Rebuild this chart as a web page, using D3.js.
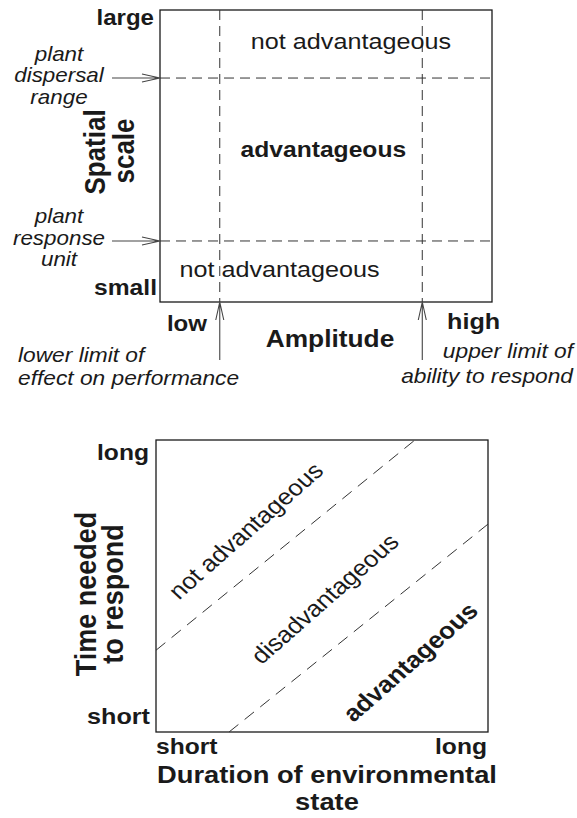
<!DOCTYPE html>
<html>
<head>
<meta charset="utf-8">
<script src="https://cdn.jsdelivr.net/npm/d3@7"></script>
<style>
  body { margin: 0; background: #fff; }
  svg { display: block; font-family: "Liberation Sans", Arial, Helvetica, sans-serif; }
</style>
</head>
<body>
<svg width="577" height="818"></svg>
<script>
// top panel: amplitude vs spatial scale (0..1 units)
const ampLimits = [0.18, 0.79];            // lower limit of effect, upper limit of ability
const spatialLimits = [0.209, 0.767];      // plant response unit, plant dispersal range
const ampTicks = ["low", "high"];
const spatialTicks = ["small", "large"];
const topRegions = [
    {label: "not advantageous", x: 0.575, y: 0.865, bold: false},
    {label: "advantageous", x: 0.492, y: 0.496, bold: true},
    {label: "not advantageous", x: 0.36, y: 0.085, bold: false}
];
const spatialNotes = [["plant", "dispersal", "range"], ["plant", "response", "unit"]];
const ampNotes = [["lower limit of", "effect on performance"], ["upper limit of", "ability to respond"]];

// bottom panel: duration of environmental state vs time needed to respond
const boundaryLines = [
    [[0, 0.28], [0.78, 1]],
    [[0.22, 0], [1, 0.712]]
];
const durationTicks = ["short", "long"];
const timeTicks = ["short", "long"];
const bottomRegions = [
    {label: "not advantageous", x: 0.289, y: 0.67, bold: false},
    {label: "disadvantageous", x: 0.527, y: 0.437, bold: false},
    {label: "advantageous", x: 0.785, y: 0.22, bold: true}
];

const SX = 1.12;   // the figure is slightly wider than tall
const ink = "#1a1a1a";

const svg = d3.select("svg");

function label(g, txt, x, y, opts) {
    const o = Object.assign({size: 21.5, weight: "bold", style: "normal", anchor: "middle", rot: 0}, opts);
    return g.append("text")
        .attr("transform", `translate(${x},${y}) scale(${SX},1) rotate(${o.rot})`)
        .attr("text-anchor", o.anchor)
        .attr("font-size", o.size)
        .attr("font-weight", o.weight)
        .attr("font-style", o.style)
        .attr("fill", ink)
        .text(txt);
}

function arrow(g, xa, ya, xb, yb) {
    const a = Math.atan2(yb - ya, xb - xa);
    const len = 18, hw = 4;
    const bx = xb - len * Math.cos(a), by = yb - len * Math.sin(a);
    const px = -Math.sin(a) * hw, py = Math.cos(a) * hw;
    g.append("path")
        .attr("d", `M${xa},${ya}L${xb},${yb}M${bx + px},${by + py}L${xb},${yb}L${bx - px},${by - py}`)
        .attr("fill", "none")
        .attr("stroke", "#444")
        .attr("stroke-width", 1.1);
}

// ---------- top panel ----------
const topG = svg.append("g");
const xTop = d3.scaleLinear().domain([0, 1]).range([160, 492]);
const yTop = d3.scaleLinear().domain([0, 1]).range([302, 10]);

topG.append("rect")
    .attr("x", xTop(0)).attr("y", yTop(1))
    .attr("width", xTop(1) - xTop(0)).attr("height", yTop(0) - yTop(1))
    .attr("fill", "none").attr("stroke", ink).attr("stroke-width", 1.3);

topG.selectAll(".vdash")
    .data(ampLimits)
    .enter().append("line")
    .attr("class", "vdash")
    .attr("x1", d => xTop(d)).attr("x2", d => xTop(d))
    .attr("y1", yTop(1)).attr("y2", yTop(0))
    .attr("stroke", "#333").attr("stroke-width", 1)
    .attr("stroke-dasharray", "10,6");

topG.selectAll(".hdash")
    .data(spatialLimits)
    .enter().append("line")
    .attr("class", "hdash")
    .attr("x1", xTop(0)).attr("x2", xTop(1))
    .attr("y1", d => yTop(d)).attr("y2", d => yTop(d))
    .attr("stroke", "#333").attr("stroke-width", 1)
    .attr("stroke-dasharray", "10,6");

topRegions.forEach(r => {
    label(topG, r.label, xTop(r.x), yTop(r.y), {size: r.bold ? 22 : 22.5, weight: r.bold ? "bold" : "normal"});
});

// spatial annotations with arrows
const spatialOrder = [spatialLimits[1], spatialLimits[0]];
spatialOrder.forEach((v, i) => {
    const yy = yTop(v);
    arrow(topG, 112, yy, xTop(0), yy);
    spatialNotes[i].forEach((t, j) => {
        label(topG, t, 59, yy - 17.5 + j * 21.5, {size: 20, weight: "normal", style: "italic"});
    });
});

// amplitude annotations with arrows
ampLimits.forEach(v => {
    const xx = xTop(v);
    arrow(topG, xx, 360, xx, yTop(0));
});
ampNotes[0].forEach((t, j) => {
    label(topG, t, 18, 362 + j * 23, {size: 20.3, weight: "normal", style: "italic", anchor: "start"});
});
ampNotes[1].forEach((t, j) => {
    label(topG, t, 573, 358 + j * 24.5, {size: 20.3, weight: "normal", style: "italic", anchor: "end"});
});

// tick words and titles
label(topG, spatialTicks[1], 154, 25, {anchor: "end"});
label(topG, spatialTicks[0], 157, 295, {anchor: "end", size: 22});
label(topG, ampTicks[0], 207, 331, {anchor: "end"});
label(topG, ampTicks[1], 447, 329, {anchor: "start", size: 22.5});
label(topG, "Amplitude", 330, 347, {size: 23.5});
label(topG, "Spatial", 105, 152, {size: 26, rot: -90});
label(topG, "scale", 134, 151, {size: 26, rot: -90});

// ---------- bottom panel ----------
const botG = svg.append("g");
const xBot = d3.scaleLinear().domain([0, 1]).range([156, 488]);
const yBot = d3.scaleLinear().domain([0, 1]).range([732, 440]);

botG.append("rect")
    .attr("x", xBot(0)).attr("y", yBot(1))
    .attr("width", xBot(1) - xBot(0)).attr("height", yBot(0) - yBot(1))
    .attr("fill", "none").attr("stroke", ink).attr("stroke-width", 1.3);

const line = d3.line().x(d => xBot(d[0])).y(d => yBot(d[1]));
botG.selectAll(".diag")
    .data(boundaryLines)
    .enter().append("path")
    .attr("class", "diag")
    .attr("d", line)
    .attr("fill", "none")
    .attr("stroke", "#333").attr("stroke-width", 1)
    .attr("stroke-dasharray", "12,8");

// region words are set a little steeper than the boundaries
const ang = -44.5;

bottomRegions.forEach(r => {
    label(botG, r.label, xBot(r.x), yBot(r.y), {size: r.bold ? 23.5 : 23, weight: r.bold ? "bold" : "normal", rot: ang});
});

label(botG, timeTicks[1], 149, 460, {anchor: "end", size: 22});
label(botG, timeTicks[0], 150, 724, {anchor: "end", size: 22.5});
label(botG, durationTicks[0], 156, 754, {anchor: "start", size: 22});
label(botG, durationTicks[1], 487, 754, {anchor: "end", size: 22});
label(botG, "Duration of environmental", 327, 783, {size: 24.4});
label(botG, "state", 327, 810, {size: 24.4});
label(botG, "Time needed", 96, 594, {size: 27, rot: -90});
label(botG, "to respond", 123, 594, {size: 27, rot: -90});
</script>
</body>
</html>
